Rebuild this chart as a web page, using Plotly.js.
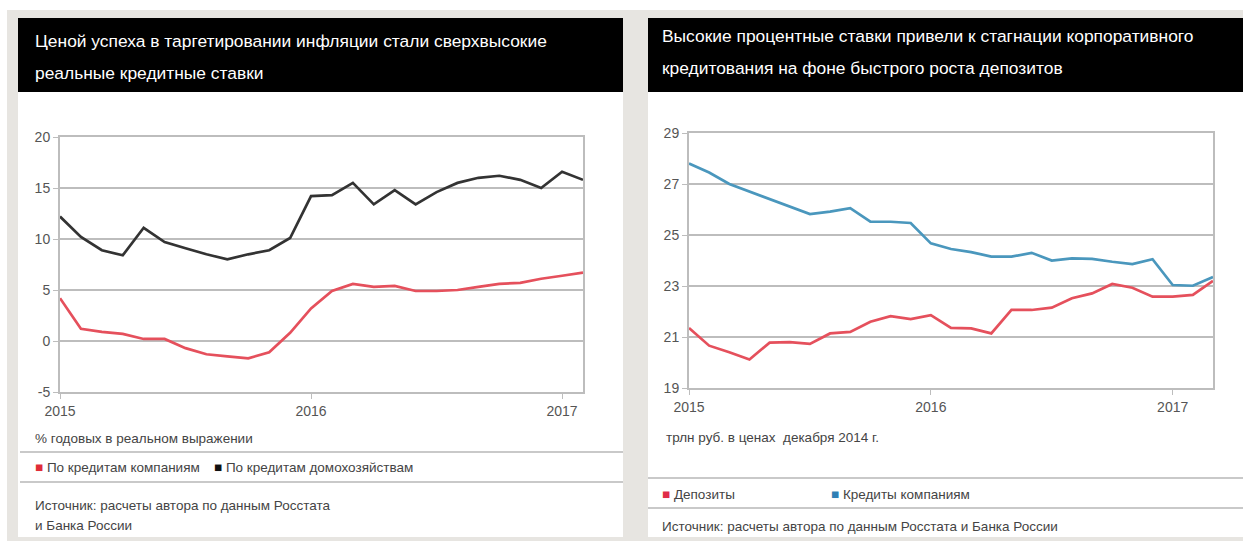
<!DOCTYPE html>
<html>
<head>
<meta charset="utf-8">
<script src="https://cdn.plot.ly/plotly-3.0.1.min.js"></script>
<style>html,body{margin:0;padding:0;background:#fff;}#chart{width:1243px;height:541px;}</style>
</head>
<body>
<div id="chart"></div>
<script>
// ---- Left chart data: real lending rates, % per year ----
const monthsLeft = ['2015-01','2015-02','2015-03','2015-04','2015-05','2015-06','2015-07','2015-08','2015-09','2015-10','2015-11','2015-12',
  '2016-01','2016-02','2016-03','2016-04','2016-05','2016-06','2016-07','2016-08','2016-09','2016-10','2016-11','2016-12',
  '2017-01','2017-02'];
const companiesRate = [4.2, 1.2, 0.9, 0.7, 0.2, 0.2, -0.7, -1.3, -1.5, -1.7, -1.1, 0.8,
  3.2, 4.9, 5.6, 5.3, 5.4, 4.9, 4.9, 5.0, 5.3, 5.6, 5.7, 6.1, 6.4, 6.7];
const householdsRate = [12.2, 10.2, 8.9, 8.4, 11.1, 9.7, 9.1, 8.5, 8.0, 8.5, 8.9, 10.1,
  14.2, 14.3, 15.5, 13.4, 14.8, 13.4, 14.6, 15.5, 16.0, 16.2, 15.8, 15.0, 16.6, 15.8];

// ---- Right chart data: trillion rubles in Dec 2014 prices ----
const monthsRight = ['2015-01','2015-02','2015-03','2015-04','2015-05','2015-06','2015-07','2015-08','2015-09','2015-10','2015-11','2015-12',
  '2016-01','2016-02','2016-03','2016-04','2016-05','2016-06','2016-07','2016-08','2016-09','2016-10','2016-11','2016-12',
  '2017-01','2017-02','2017-03'];
const deposits = [21.35, 20.66, 20.4, 20.12, 20.78, 20.8, 20.73, 21.14, 21.2, 21.6, 21.82, 21.7,
  21.86, 21.36, 21.34, 21.14, 22.06, 22.06, 22.15, 22.52, 22.71, 23.08, 22.93, 22.58, 22.58, 22.65, 23.2];
const corpLoans = [27.8, 27.45, 27.0, 26.7, 26.42, 26.1, 25.82, 25.92, 26.05, 25.52, 25.52, 25.47,
  24.67, 24.45, 24.33, 24.15, 24.15, 24.3, 24.0, 24.08, 24.06, 23.95, 23.86, 24.05, 23.04, 23.01, 23.35];

const yearTickVals = ['2015-01','2016-01','2017-01'];
const yearTickText = ['2015','2016','2017'];
const leftYTicks = [-5, 0, 5, 10, 15, 20];
const leftYText = ['-5', '0', '5', '10', '15', '20'];

const W = 1243, H = 541;
const px = x => x / W;
const py = y => 1 - y / H;
const FONT = '"Liberation Sans", Arial, sans-serif';
const GRID = '#bdbdbd';

const traces = [
  {x: monthsLeft, y: companiesRate, type: 'scatter', mode: 'lines', xaxis: 'x', yaxis: 'y',
   line: {color: '#e5505c', width: 2.7}, name: 'По кредитам компаниям', showlegend: false},
  {x: monthsLeft, y: householdsRate, type: 'scatter', mode: 'lines', xaxis: 'x', yaxis: 'y',
   line: {color: '#333333', width: 2.7}, name: 'По кредитам домохозяйствам', showlegend: false},
  {x: monthsRight, y: deposits, type: 'scatter', mode: 'lines', xaxis: 'x2', yaxis: 'y2',
   line: {color: '#e5505c', width: 2.7}, name: 'Депозиты', showlegend: false},
  {x: monthsRight, y: corpLoans, type: 'scatter', mode: 'lines', xaxis: 'x2', yaxis: 'y2',
   line: {color: '#4a97bd', width: 2.7}, name: 'Кредиты компаниям', showlegend: false}
];

const tickFont = {family: FONT, size: 14, color: '#555'};
const xBase = {type: 'category', tickmode: 'array', tickvals: yearTickVals, ticktext: yearTickText,
  showgrid: false, zeroline: false, showline: true, linecolor: GRID, linewidth: 2, mirror: true,
  ticks: 'outside', ticklen: 5, tickcolor: GRID, tickfont: tickFont, fixedrange: true};
const yBase = {showgrid: true, gridcolor: GRID, gridwidth: 2, zeroline: false, showline: true,
  linecolor: GRID, linewidth: 2, mirror: true, ticks: 'outside', ticklen: 5, tickcolor: GRID,
  tickfont: tickFont, fixedrange: true};

function rect(x0, y0, x1, y1, color) {
  return {type: 'rect', xref: 'paper', yref: 'paper', x0: px(x0), x1: px(x1), y0: py(y1), y1: py(y0),
    fillcolor: color, line: {width: 0}, layer: 'below'};
}
function hline(x0, x1, y, color) {
  return {type: 'line', xref: 'paper', yref: 'paper', x0: px(x0), x1: px(x1), y0: py(y), y1: py(y),
    line: {color: color, width: 2}, layer: 'below'};
}
function txt(x, y, text, size, color) {
  return {xref: 'paper', yref: 'paper', x: px(x), y: py(y), xanchor: 'left', yanchor: 'middle',
    text: text, showarrow: false, font: {family: FONT, size: size, color: color}};
}

const shapes = [
  rect(0, 0, W, 10, '#ffffff'),
  rect(0, 0, 7, H, '#ffffff'),
  rect(18, 18, 623, 537, '#ffffff'),
  rect(648, 18, W, 537, '#ffffff'),
  rect(18, 18, 623, 92, '#000000'),
  rect(648, 18, W, 92, '#000000'),
  hline(20, 623, 452, '#c9c9c9'),
  hline(20, 623, 482, '#c9c9c9'),
  hline(648, W, 478, '#c9c9c9'),
  hline(648, W, 508, '#c9c9c9')
];

const annotations = [
  txt(33, 41, 'Ценой успеха в таргетировании инфляции стали сверхвысокие', 17.4, '#ffffff'),
  txt(33, 73, 'реальные кредитные ставки', 17.4, '#ffffff'),
  txt(660, 36, 'Высокие процентные ставки привели к стагнации корпоративного', 17.4, '#ffffff'),
  txt(660, 68, 'кредитования на фоне быстрого роста депозитов', 17.4, '#ffffff'),
  txt(33, 438, '% годовых в реальном выражении', 13.5, '#444'),
  txt(33, 467, '<span style="color:#e02c38">■</span> По кредитам компаниям', 13.5, '#444'),
  txt(212, 467, '<span style="color:#111">■</span> По кредитам домохозяйствам', 13.5, '#444'),
  txt(33, 505, 'Источник: расчеты автора по данным Росстата', 13.5, '#444'),
  txt(33, 525, 'и Банка России', 13.5, '#444'),
  txt(664, 437, 'трлн руб. в ценах  декабря 2014 г.', 13.5, '#444'),
  txt(660, 494, '<span style="color:#e02c48">■</span> Депозиты', 13.5, '#444'),
  txt(829, 494, '<span style="color:#2f7fb5">■</span> Кредиты компаниям', 13.5, '#444'),
  txt(660, 526, 'Источник: расчеты автора по данным Росстата и Банка России', 13.5, '#444')
];

const layout = {
  width: W, height: H,
  margin: {l: 0, r: 0, t: 0, b: 0},
  paper_bgcolor: '#e7e5e1',
  plot_bgcolor: 'rgba(0,0,0,0)',
  showlegend: false,
  xaxis: Object.assign({}, xBase, {domain: [px(60), px(583)], range: [0, 25], anchor: 'y'}),
  yaxis: Object.assign({}, yBase, {domain: [py(392), py(137)], range: [-5, 20], tickmode: 'array',
    tickvals: leftYTicks, ticktext: leftYText, anchor: 'x'}),
  xaxis2: Object.assign({}, xBase, {domain: [px(689), px(1213)], range: [0, 26], anchor: 'y2'}),
  yaxis2: Object.assign({}, yBase, {domain: [py(388), py(133)], range: [19, 29], dtick: 2, tick0: 19, anchor: 'x2'}),
  shapes: shapes,
  annotations: annotations
};

Plotly.newPlot('chart', traces, layout, {displayModeBar: false, staticPlot: true});
</script>
</body>
</html>
